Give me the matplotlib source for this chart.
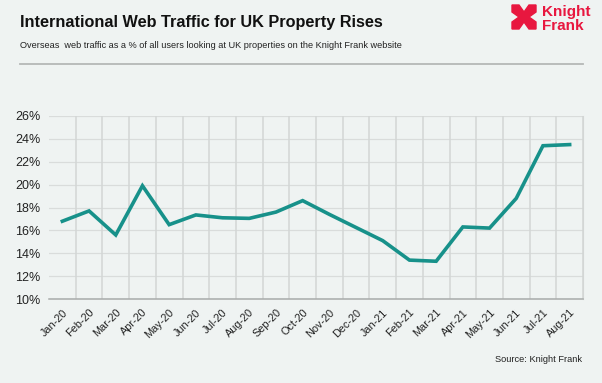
import numpy as np
import matplotlib
matplotlib.use('Agg')
import matplotlib.pyplot as plt
from matplotlib.patches import Polygon

plt.rcParams['font.family'] = ['Liberation Sans', 'DejaVu Sans']

months = ['Jan-20', 'Feb-20', 'Mar-20', 'Apr-20', 'May-20', 'Jun-20', 'Jul-20',
          'Aug-20', 'Sep-20', 'Oct-20', 'Nov-20', 'Dec-20', 'Jan-21', 'Feb-21',
          'Mar-21', 'Apr-21', 'May-21', 'Jun-21', 'Jul-21', 'Aug-21']
share = [16.8, 17.7, 15.6, 19.9, 16.5, 17.35, 17.1, 17.05, 17.6, 18.6,
         17.4, 16.25, 15.1, 13.4, 13.3, 16.3, 16.2, 18.8, 23.4, 23.5]
yticks = [10, 12, 14, 16, 18, 20, 22, 24, 26]

bg = '#eff3f2'
teal = '#17918a'
red = '#e8173f'

fig = plt.figure(figsize=(6.02, 3.83), dpi=100, facecolor=bg)
W, H = 602, 383
ax = fig.add_axes([49 / W, 1 - 299 / H, (583 - 49) / W, (299 - 116) / H])
ax.set_facecolor(bg)

x = np.arange(len(months))
ax.plot(x, share, color=teal, lw=2.6, solid_joinstyle='miter', zorder=3)

ax.set_xlim(-0.5, len(months) - 0.5)
ax.set_ylim(10, 26)
ax.set_yticks(yticks)
ax.set_yticklabels([f'{v}%' for v in yticks], fontsize=9, color='#222222')
ax.set_xticks(x)
ax.set_xticklabels(months, rotation=45, ha='right', rotation_mode='anchor',
                   fontsize=7.8, color='#222222')
ax.tick_params(length=0, pad=6)
ax.tick_params(axis='x', pad=6)

# grid: horizontal at ticks, vertical at category boundaries
for v in yticks:
    ax.axhline(v, color='#d9dcdb', lw=0.9, zorder=1)
for b in np.arange(-0.5, len(months), 1.0)[1:]:
    ax.axvline(b, color='#d3d6d5', lw=1.1, zorder=1)
for s in ['top', 'left']:
    ax.spines[s].set_visible(False)
ax.spines['right'].set_color('#d3d6d5')
ax.spines['bottom'].set_color('#a8abaa')
ax.spines['bottom'].set_linewidth(1.1)

# header
fig.text(20 / W, 1 - 23 / H, 'International Web Traffic for UK Property Rises',
         fontsize=11.7, fontweight='bold', va='center', color='#111111')
fig.text(20 / W, 1 - 45 / H,
         'Overseas  web traffic as a % of all users looking at UK properties on the Knight Frank website',
         fontsize=6.6, va='center', color='#222222')
fig.add_artist(plt.Line2D([20 / W, 583 / W], [1 - 64 / H, 1 - 64 / H],
                          color='#b5b8b7', lw=1.3))
fig.text(582 / W, 1 - 360 / H, 'Source: Knight Frank', fontsize=6.7,
         ha='right', va='center', color='#222222')

# logo: square with V-notches on each side
def px(pts):
    return [(a / W, 1 - b / H) for a, b in pts]
l, t, r, b = 512, 5, 536, 29
cx, cy = (l + r) / 2, (t + b) / 2
n, w = 7, 5
mark = [(l, t), (cx - w, t), (cx, t + n), (cx + w, t), (r, t),
        (r, cy - w), (r - n, cy), (r, cy + w), (r, b),
        (cx + w, b), (cx, b - n), (cx - w, b), (l, b),
        (l, cy + w), (l + n, cy), (l, cy - w)]
fig.add_artist(Polygon(px(mark), closed=True, color=red, transform=fig.transFigure))
fig.text(542 / W, 1 - 12 / H, 'Knight', fontsize=11, fontweight='bold', color=red, va='center')
fig.text(542 / W, 1 - 26 / H, 'Frank', fontsize=11, fontweight='bold', color=red, va='center')

fig.savefig('out.png', dpi=100, facecolor=bg)
